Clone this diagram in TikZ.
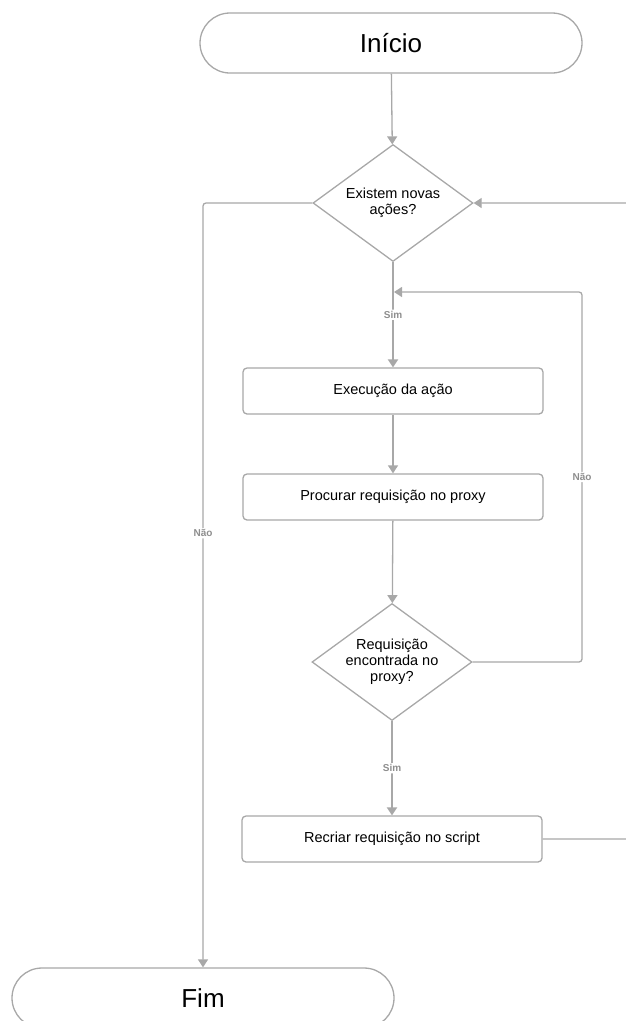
\documentclass[tikz,border=0pt]{standalone}
\usepackage{fontspec}
\setmainfont{Liberation Sans}
\usetikzlibrary{arrows.meta,shapes.geometric}

\definecolor{linegray}{HTML}{A8A8A8}
\definecolor{labelgray}{HTML}{8E8E8E}

\tikzset{
  line/.style={draw=linegray, line width=1.3pt, rounded corners=3pt},
  arr/.style={line, -{Triangle[length=8pt,width=10pt]}},
  term/.style={draw=linegray, line width=1.3pt, rounded corners=30pt,
    minimum width=382pt, minimum height=60pt, font=\fontsize{26}{30}\selectfont},
  proc/.style={draw=linegray, line width=1.3pt, rounded corners=4pt,
    minimum width=300pt, minimum height=46pt, font=\fontsize{14.5}{17}\selectfont},
  dec/.style={diamond, draw=linegray, line width=1.3pt, minimum width=160pt,
    minimum height=117pt, inner sep=-14pt, align=center, font=\fontsize{14.5}{16}\selectfont},
  lbl/.style={fill=white, text=labelgray, inner sep=1.5pt,
    font=\fontsize{10}{11}\selectfont\bfseries}
}

\begin{document}
\begin{tikzpicture}[x=1pt,y=-1pt]

\useasboundingbox (0,0) rectangle (625,1021);

% SHAPES

\node[term] (inicio) at (391,43) {Início};
\node[dec] (novas) at (393,203) {Existem novas\\ações?};
\node[proc] (execucao) at (393,391) {Execução da ação};
\node[proc] (procurar) at (393,497) {Procurar requisição no proxy};
\node[dec] (encontrada) at (392,662) {Requisição\\encontrada no\\proxy?};
\node[proc] (recriar) at (392,839) {Recriar requisição no script};
\node[term] (fim) at (203,998) {Fim};

\coordinate (retorno) at (394,292);
\coordinate (desvio) at (582,292);
\coordinate (fora) at (645,839);

% MAIN FLOW

\draw[arr] (inicio) -- (novas);
\draw[arr, line width=2pt] (novas) -- node[lbl]{Sim} (execucao);
\draw[arr] (execucao) -- (procurar);
\draw[arr] (procurar) -- (encontrada);
\draw[arr, line width=2pt] (encontrada) -- node[lbl]{Sim} (recriar);

% LOOPS

\draw[arr] (novas.west) -| node[lbl, pos=0.716]{Não} (fim.north);
\draw[arr] (encontrada.east) -| node[lbl, pos=0.75]{Não} (desvio) -- (retorno);
\draw[arr] (recriar.east) -- (fora) |- (novas.east);

\end{tikzpicture}
\end{document}
